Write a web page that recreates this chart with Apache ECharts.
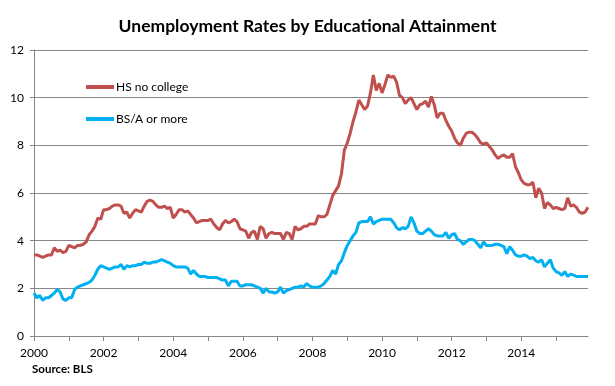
<!DOCTYPE html>
<html><head><meta charset="utf-8">
<script src="https://cdn.jsdelivr.net/npm/echarts@6/dist/echarts.min.js"></script>
<style>html,body{margin:0;padding:0;background:#fff}#c{width:615px;height:386px}</style>
</head><body><div id="c"></div>
<script>
const startYear = 2000;
const endYear = 2015;
const yTicks = [0, 2, 4, 6, 8, 10, 12];
const seriesNames = ['HS no college', 'BS/A or more'];

// HS graduates, no college (%) — monthly, Jan..Dec
const hs2000 = [3.4,3.4,3.35,3.3,3.35,3.4,3.4,3.7,3.55,3.6,3.5,3.55];
const hs2001 = [3.8,3.75,3.7,3.8,3.8,3.85,3.95,4.25,4.4,4.6,4.95,4.9];
const hs2002 = [5.3,5.3,5.35,5.45,5.5,5.5,5.45,5.15,5.2,4.95,5.15,5.3];
const hs2003 = [5.25,5.2,5.45,5.65,5.7,5.65,5.5,5.4,5.4,5.45,5.35,5.4];
const hs2004 = [4.95,5.1,5.3,5.3,5.2,5.25,5.1,4.95,4.75,4.8,4.85,4.85];
const hs2005 = [4.85,4.9,4.7,4.55,4.45,4.7,4.85,4.75,4.8,4.9,4.8,4.5];
const hs2006 = [4.45,4.4,4.1,4.35,4.4,4.05,4.6,4.5,4.1,4.3,4.35,4.3];
const hs2007 = [4.3,4.3,4.05,4.35,4.3,4.05,4.6,4.45,4.5,4.6,4.6,4.7];
const hs2008 = [4.7,4.7,5.05,5.0,5.0,5.1,5.5,5.9,6.1,6.3,6.8,7.8];
const hs2009 = [8.1,8.5,9.0,9.4,9.9,9.7,9.5,9.65,10.2,10.95,10.3,10.6];
const hs2010 = [10.2,10.55,10.95,10.85,10.9,10.65,10.1,10.0,9.75,9.9,10.0,9.75];
const hs2011 = [9.5,9.7,9.75,9.85,9.6,10.05,9.7,9.15,9.35,9.35,9.05,8.8];
const hs2012 = [8.6,8.3,8.1,8.0,8.3,8.5,8.55,8.55,8.45,8.3,8.1,8.05];
const hs2013 = [8.1,7.95,7.8,7.6,7.45,7.55,7.6,7.5,7.5,7.65,7.1,6.85];
const hs2014 = [6.55,6.4,6.35,6.35,6.45,5.8,6.2,6.0,5.35,5.6,5.5,5.35];
const hs2015 = [5.4,5.35,5.3,5.35,5.8,5.45,5.5,5.4,5.2,5.15,5.2,5.4];

// Bachelor's / associate or more (%) — monthly, Jan..Dec
const ba2000 = [1.8,1.6,1.7,1.5,1.6,1.6,1.7,1.8,1.95,1.85,1.55,1.5];
const ba2001 = [1.6,1.6,1.95,2.05,2.1,2.15,2.2,2.25,2.35,2.55,2.8,2.95];
const ba2002 = [2.9,2.85,2.8,2.85,2.9,2.9,3.0,2.8,2.95,2.9,2.95,2.95];
const ba2003 = [3.0,3.0,3.1,3.05,3.05,3.1,3.1,3.15,3.2,3.15,3.1,3.05];
const ba2004 = [2.95,2.9,2.9,2.9,2.9,2.85,2.6,2.75,2.6,2.5,2.5,2.5];
const ba2005 = [2.45,2.45,2.45,2.45,2.4,2.35,2.35,2.1,2.3,2.3,2.3,2.1];
const ba2006 = [2.1,2.15,2.15,2.15,2.1,2.05,2.0,1.8,2.0,1.85,1.85,1.8];
const ba2007 = [1.85,2.05,1.8,1.9,1.95,2.0,2.05,2.05,2.1,2.05,2.2,2.1];
const ba2008 = [2.05,2.05,2.05,2.1,2.2,2.35,2.5,2.75,2.6,3.0,3.15,3.5];
const ba2009 = [3.8,4.0,4.2,4.35,4.75,4.8,4.8,4.8,5.0,4.7,4.8,4.85];
const ba2010 = [4.9,4.9,4.9,4.9,4.75,4.55,4.45,4.55,4.5,4.6,5.0,4.75];
const ba2011 = [4.4,4.3,4.3,4.4,4.5,4.4,4.25,4.2,4.2,4.2,4.35,4.1];
const ba2012 = [4.25,4.3,4.05,4.0,3.85,3.95,4.05,4.05,4.0,3.85,3.7,3.95];
const ba2013 = [3.8,3.8,3.8,3.85,3.85,3.8,3.75,3.45,3.75,3.6,3.4,3.35];
const ba2014 = [3.35,3.4,3.35,3.25,3.3,3.15,3.1,3.2,2.9,3.05,3.2,2.85];
const ba2015 = [2.7,2.65,2.55,2.7,2.5,2.6,2.55,2.5,2.5,2.5,2.5,2.5];

const hsData = [].concat(hs2000,hs2001,hs2002,hs2003,hs2004,hs2005,hs2006,hs2007,
  hs2008,hs2009,hs2010,hs2011,hs2012,hs2013,hs2014,hs2015);
const baData = [].concat(ba2000,ba2001,ba2002,ba2003,ba2004,ba2005,ba2006,ba2007,
  ba2008,ba2009,ba2010,ba2011,ba2012,ba2013,ba2014,ba2015);

const months = [];
for (let y = startYear; y <= endYear; y++) {
  for (let m = 1; m <= 12; m++) months.push(y + '-' + (m < 10 ? '0' + m : m));
}

const FONT = 'Lato, "Open Sans", sans-serif';
const GRID = '#868686';

const chart = echarts.init(document.getElementById('c'), null, {renderer: 'canvas'});
chart.setOption({
  animation: false,
  backgroundColor: '#ffffff',
  title: [{
    text: 'Unemployment Rates by Educational Attainment',
    left: 'center', top: 12,
    textStyle: {fontFamily: FONT, fontWeight: 'bold', fontSize: 17.5, color: '#000'}
  }, {
    text: 'Source: BLS',
    left: 27, top: 358,
    textStyle: {fontFamily: FONT, fontWeight: 'bold', fontSize: 11.5, color: '#000'}
  }],
  legend: {
    orient: 'vertical',
    left: 86, top: 81,
    padding: 0,
    itemWidth: 28, itemHeight: 4, itemGap: 20,
    icon: 'rect',
    textStyle: {fontFamily: FONT, fontSize: 12, color: '#000', padding: [0, 0, 0, -3]},
    data: seriesNames
  },
  grid: {left: 34, right: 27, top: 50, bottom: 50, containLabel: false},
  xAxis: {
    type: 'category',
    data: months,
    boundaryGap: false,
    axisLine: {show: true, lineStyle: {color: GRID, width: 1}},
    axisTick: {show: true, length: 5, lineStyle: {color: GRID},
      interval: function (i) { return i % 12 === 0; }},
    axisLabel: {
      interval: function (i) { return i % 24 === 0; },
      formatter: function (v) { return v.slice(0, 4); },
      fontFamily: FONT, fontSize: 12, color: '#000', margin: 11
    },
    splitLine: {show: false}
  },
  yAxis: {
    type: 'value',
    min: yTicks[0], max: yTicks[yTicks.length - 1], interval: 2,
    axisLine: {show: true, lineStyle: {color: GRID, width: 1}},
    axisTick: {show: true, length: 4, lineStyle: {color: GRID}},
    axisLabel: {fontFamily: FONT, fontSize: 12, color: '#000', margin: 10},
    splitLine: {show: true, lineStyle: {color: GRID, width: 1}}
  },
  series: [{
    name: seriesNames[0], type: 'line', data: hsData,
    showSymbol: false, symbol: 'none',
    lineStyle: {color: '#C0504D', width: 3},
    itemStyle: {color: '#C0504D'}
  }, {
    name: seriesNames[1], type: 'line', data: baData,
    showSymbol: false, symbol: 'none',
    lineStyle: {color: '#00B0F0', width: 3},
    itemStyle: {color: '#00B0F0'}
  }]
});
</script></body></html>
